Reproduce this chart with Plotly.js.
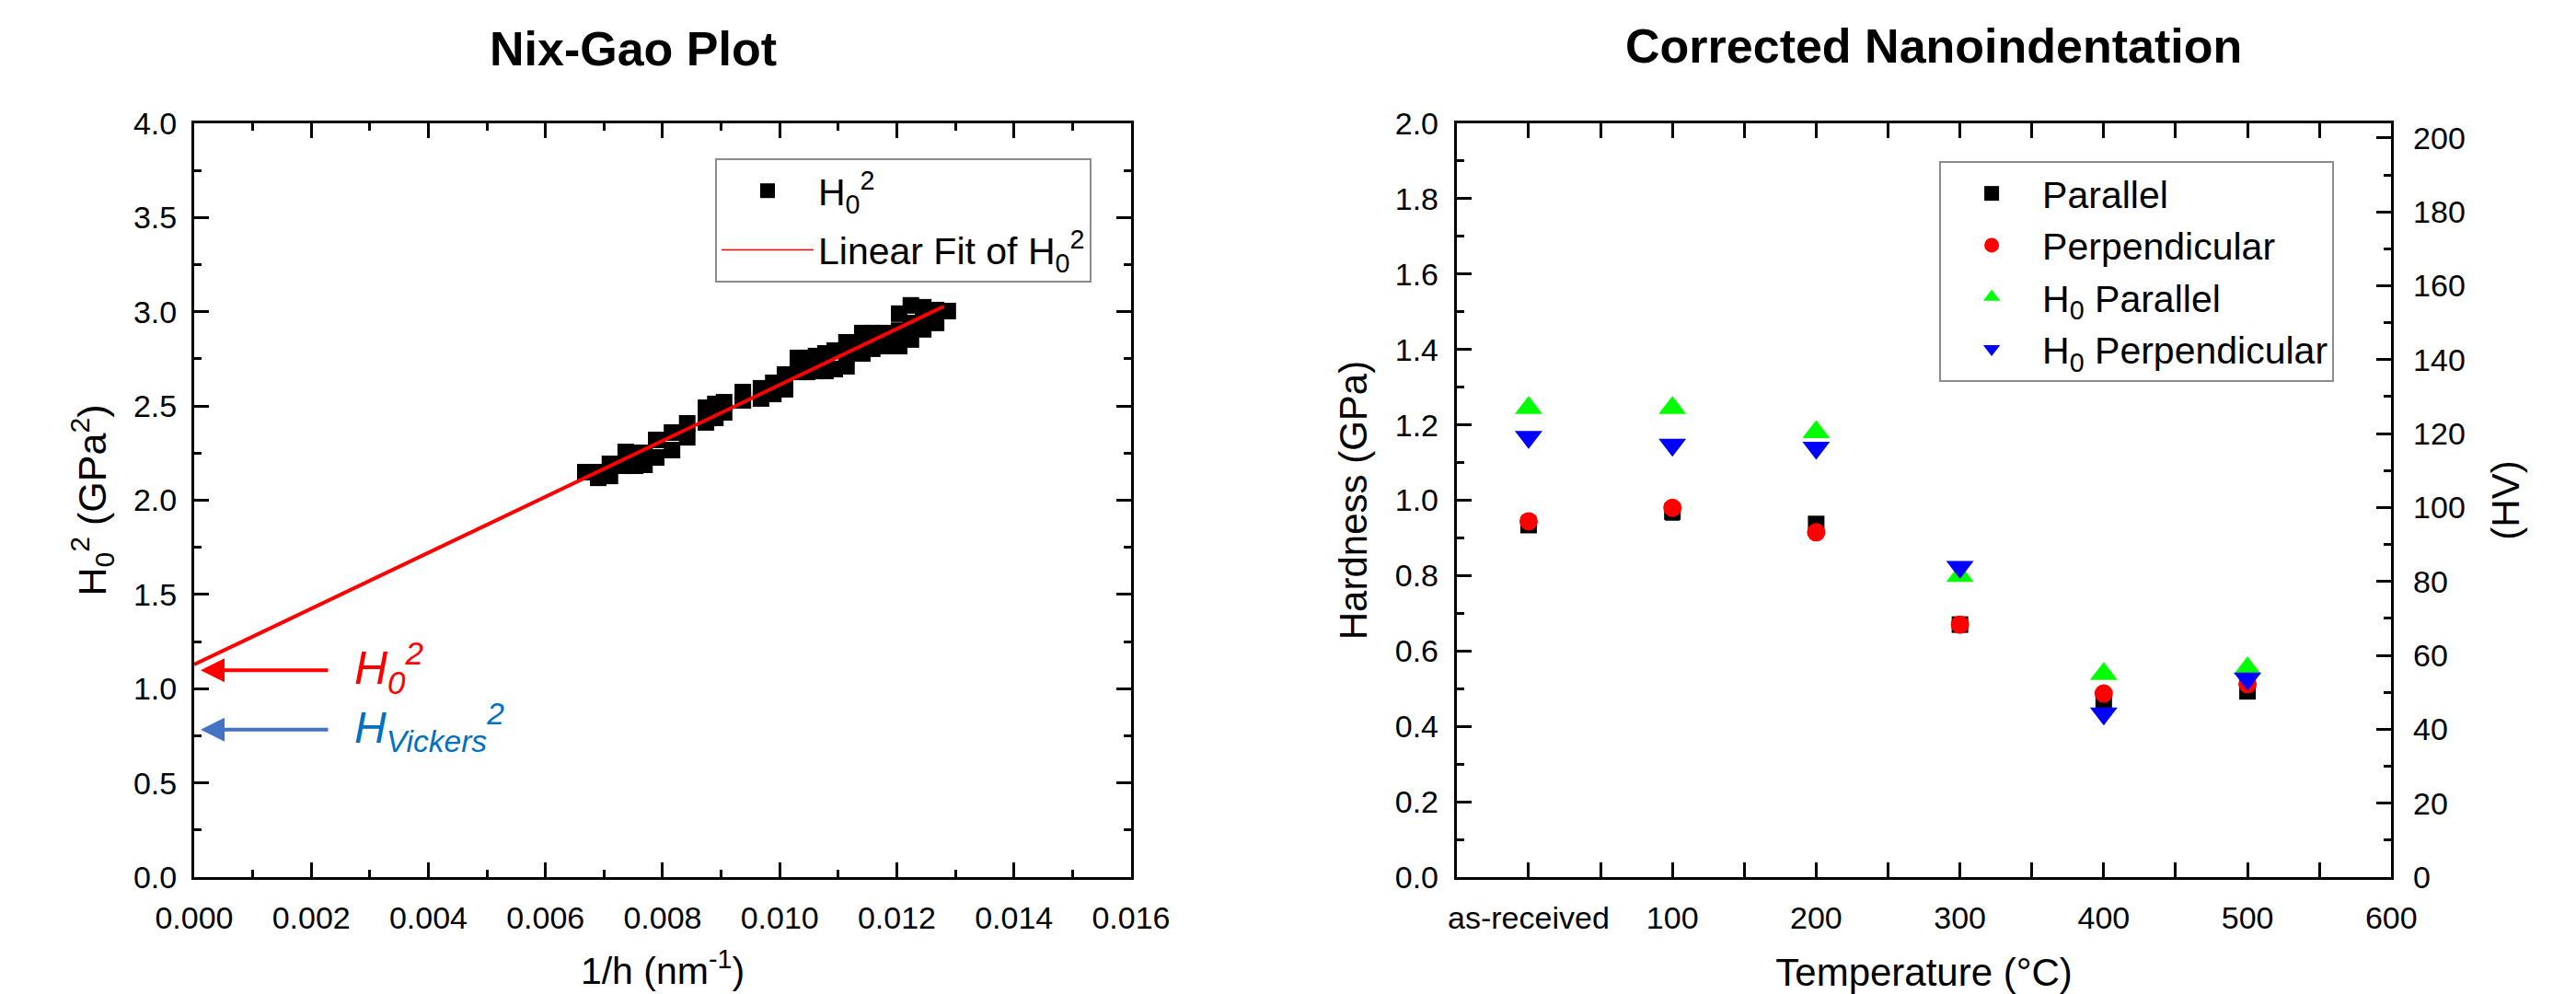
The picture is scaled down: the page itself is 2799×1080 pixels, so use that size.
<!DOCTYPE html>
<html>
<head>
<meta charset="utf-8">
<script src="https://cdn.plot.ly/plotly-3.0.1.min.js"></script>
<style>html,body{margin:0;padding:0;background:#fff;}#chart{width:2799px;height:1080px;}</style>
</head>
<body>
<div id="chart"></div>
<script>
// ---- Nix-Gao plot data ----
const invH = [0.00668, 0.00690,0.00690, 0.00710,0.00710, 0.00737,0.00737, 0.00753,0.00753, 0.00769,0.00769,
  0.00789,0.00789, 0.00816,0.00816, 0.00842,0.00842, 0.00874,0.00874, 0.00890,0.00890, 0.00905,0.00905,
  0.00937,0.00937, 0.00968,0.00968, 0.00989,0.00989, 0.01009,0.01009, 0.01031,0.01031, 0.01047,0.01047,
  0.01062,0.01062, 0.01078,0.01078, 0.01094,0.01094, 0.01114,0.01114,0.01114, 0.01141,0.01141,0.01141,
  0.01158,0.01158, 0.01177,0.01177,0.01177, 0.01204,0.01204,0.01204, 0.01224,0.01224,0.01224,
  0.01245,0.01245,0.01245, 0.01267,0.01267, 0.01287];
const h0sq = [2.149, 2.149,2.119, 2.193,2.129, 2.256,2.183, 2.251,2.183, 2.251,2.188,
  2.320,2.227, 2.359,2.266, 2.408,2.334, 2.491,2.413, 2.511,2.437, 2.520,2.466,
  2.574,2.530, 2.594,2.540, 2.623,2.564, 2.667,2.589, 2.755,2.681, 2.755,2.681,
  2.765,2.686, 2.779,2.686, 2.794,2.696, 2.838,2.775,2.711, 2.887,2.833,2.779,
  2.887,2.804, 2.887,2.850,2.818, 2.990,2.900,2.818, 3.034,2.940,2.853,
  3.024,2.965,2.907, 3.009,2.941, 3.004];
const fitX = [0, 0.0128];
const fitY = [1.128, 3.028];
// arrows: tip x, tail x, levels
const arrowTipX = 0.00011;
const arrowTailX = 0.00231;
const arrowLevels = [1.0975, 0.783];        // H0^2, HVickers^2
const arrowLabelX = 0.0027;
const arrowLabelY = [1.112, 0.794];

// ---- Corrected nanoindentation data ----
const temps = [0, 100, 200, 300, 400, 500];
const tempTickVals = [0, 100, 200, 300, 400, 500, 600];
const tempTickText = ['as-received', '100', '200', '300', '400', '500', '600'];
const parallel      = [0.934, 0.970, 0.937, 0.670, 0.462, 0.493];
const parallelErr   = [0, 0.022, 0, 0, 0, 0];
const perpendicular = [0.944, 0.980, 0.915, 0.670, 0.487, 0.512];
const h0Parallel    = [1.245, 1.245, 1.181, 0.799, 0.539, 0.554];
const h0Perp        = [1.168, 1.147, 1.139, 0.823, 0.434, 0.527];
const hvRange = [0, 203.94];   // HV scale equivalent of 0-2 GPa

const FONT = 'Liberation Sans, Arial, sans-serif';

const traces = [
  {x: invH, y: h0sq, xaxis: 'x', yaxis: 'y', type: 'scatter', mode: 'markers',
   name: 'H<sub>0</sub><sup>2</sup>', legend: 'legend', legendgroup: 'a',
   marker: {symbol: 'square', size: 18, color: '#000000'}},
  {x: fitX, y: fitY, xaxis: 'x', yaxis: 'y', type: 'scatter', mode: 'lines',
   name: 'Linear Fit of H<sub>0</sub><sup>2</sup>', legend: 'legend', showlegend: false, legendgroup: 'b',
   line: {color: '#FF0000', width: 4}},
  {x: [null], y: [null], xaxis: 'x', yaxis: 'y', type: 'scatter', mode: 'lines',
   name: 'Linear Fit of H<sub>0</sub><sup>2</sup>', legend: 'legend', legendgroup: 'b',
   line: {color: '#FF0000', width: 1.5}},

  {x: temps, y: parallel, xaxis: 'x2', yaxis: 'y2', type: 'scatter', mode: 'markers', name: 'Parallel',
   legend: 'legend2', marker: {symbol: 'square', size: 18, color: '#000000'},
   error_y: {type: 'data', array: parallelErr, visible: true, color: '#000000', thickness: 2, width: 8}},
  {x: temps, y: perpendicular, xaxis: 'x2', yaxis: 'y2', type: 'scatter', mode: 'markers', name: 'Perpendicular',
   legend: 'legend2', marker: {symbol: 'circle', size: 20, color: '#FF0000'}},
  {x: temps, y: h0Parallel, xaxis: 'x2', yaxis: 'y2', type: 'scatter', mode: 'markers', name: 'H<sub>0</sub> Parallel',
   legend: 'legend2', marker: {symbol: 'triangle-up', size: 26, color: '#00FF00'}},
  {x: temps, y: h0Perp, xaxis: 'x2', yaxis: 'y2', type: 'scatter', mode: 'markers', name: 'H<sub>0</sub> Perpendicular',
   legend: 'legend2', marker: {symbol: 'triangle-down', size: 26, color: '#0000FF'}},
  // registers the HV (right) axis
  {x: [null], y: [null], xaxis: 'x2', yaxis: 'y3', type: 'scatter', mode: 'markers', showlegend: false,
   hoverinfo: 'skip'}
];

const axBase = {
  showline: true, linecolor: '#000', linewidth: 3, showgrid: false, zeroline: false,
  ticks: 'inside', ticklen: 16, tickwidth: 3, tickcolor: '#000',
  tickfont: {family: FONT, size: 34, color: '#000'},
  ticklabelstandoff: 12
};
function ax(o) { return Object.assign({}, axBase, o); }

const yDom = [0.1176, 0.8759];

const layout = {
  width: 2799, height: 1080,
  margin: {l: 0, r: 0, t: 0, b: 0},
  paper_bgcolor: '#fff', plot_bgcolor: '#fff',
  font: {family: FONT, color: '#000'},
  showlegend: true,
  xaxis: ax({domain: [0.07538, 0.43908], range: [0, 0.016], anchor: 'y', dtick: 0.002, tick0: 0,
    tickformat: '.3f', mirror: 'allticks',
    minor: {dtick: 0.001, ticks: 'inside', ticklen: 8, tickwidth: 3, tickcolor: '#000'},
    title: {text: '1/h (nm<sup>-1</sup>)', font: {family: FONT, size: 41, color: '#000'}, standoff: 26}}),
  yaxis: ax({domain: yDom, range: [0, 4], anchor: 'x', dtick: 0.5, tick0: 0, tickformat: '.1f',
    mirror: 'allticks', ticklabelstandoff: 9,
    minor: {dtick: 0.25, ticks: 'inside', ticklen: 8, tickwidth: 3, tickcolor: '#000'},
    title: {text: 'H<sub>0</sub><sup>2</sup> (GPa<sup>2</sup>)', font: {family: FONT, size: 43, color: '#000'}, standoff: 16}}),

  xaxis2: ax({domain: [0.5655, 0.9283], range: [-50, 600], anchor: 'y2', tickmode: 'array',
    tickvals: tempTickVals, ticktext: tempTickText, mirror: 'allticks',
    minor: {dtick: 50, tick0: 0, ticks: 'inside', ticklen: 8, tickwidth: 3, tickcolor: '#000'},
    title: {text: 'Temperature (°C)', font: {family: FONT, size: 42, color: '#000'}, standoff: 28}}),
  yaxis2: ax({domain: yDom, range: [0, 2], anchor: 'x2', dtick: 0.2, tick0: 0, tickformat: '.1f',
    mirror: false, ticklabelstandoff: 10,
    minor: {dtick: 0.1, ticks: 'inside', ticklen: 8, tickwidth: 3, tickcolor: '#000'},
    title: {text: 'Hardness (GPa)', font: {family: FONT, size: 42, color: '#000'}, standoff: 18}}),
  yaxis3: ax({domain: yDom, range: hvRange, anchor: 'x2', overlaying: 'y2', side: 'right',
    dtick: 20, tick0: 0, ticklabelstandoff: 14,
    minor: {dtick: 10, ticks: 'inside', ticklen: 8, tickwidth: 3, tickcolor: '#000'},
    title: {text: '(HV)', font: {family: FONT, size: 42, color: '#000'}, standoff: 30}}),

  legend: {x: 0.2776, y: 0.8407, xanchor: 'left', yanchor: 'top', xref: 'paper', yref: 'paper',
    bgcolor: '#fff', bordercolor: '#8c8c8c', borderwidth: 2, itemwidth: 100, tracegroupgap: 8,
    font: {family: FONT, size: 41, color: '#000'}},
  legend2: {x: 0.7528, y: 0.838, xanchor: 'left', yanchor: 'top', xref: 'paper', yref: 'paper',
    bgcolor: '#fff', bordercolor: '#8c8c8c', borderwidth: 2, itemwidth: 100,
    font: {family: FONT, size: 41, color: '#000'}},

  annotations: [
    {xref: 'paper', yref: 'paper', x: 0.2458, y: 0.951, xanchor: 'center', yanchor: 'middle', showarrow: false,
     text: '<b>Nix-Gao Plot</b>', font: {family: FONT, size: 52, color: '#000'}},
    {xref: 'paper', yref: 'paper', x: 0.7506, y: 0.9537, xanchor: 'center', yanchor: 'middle', showarrow: false,
     text: '<b>Corrected Nanoindentation</b>', font: {family: FONT, size: 52, color: '#000'}},
    {xref: 'x', yref: 'y', axref: 'x', ayref: 'y', x: arrowTipX, y: arrowLevels[0], ax: arrowTailX, ay: arrowLevels[0],
     text: '', showarrow: true, arrowhead: 2, arrowsize: 1.3, arrowwidth: 4, arrowcolor: '#FF0000', standoff: 0},
    {xref: 'x', yref: 'y', axref: 'x', ayref: 'y', x: arrowTipX, y: arrowLevels[1], ax: arrowTailX, ay: arrowLevels[1],
     text: '', showarrow: true, arrowhead: 2, arrowsize: 1.3, arrowwidth: 4, arrowcolor: '#4472C4', standoff: 0},
    {xref: 'x', yref: 'y', x: arrowLabelX, y: arrowLabelY[0], xanchor: 'left', yanchor: 'middle', showarrow: false,
     text: '<i>H<sub>0</sub><sup>2</sup></i>', font: {family: FONT, size: 50, color: '#FF0000'}},
    {xref: 'x', yref: 'y', x: arrowLabelX, y: arrowLabelY[1], xanchor: 'left', yanchor: 'middle', showarrow: false,
     text: '<i>H<sub>Vickers</sub><sup>2</sup></i>', font: {family: FONT, size: 48, color: '#0070C0'}}
  ]
};

Plotly.newPlot('chart', traces, layout, {staticPlot: true, displayModeBar: false});
</script>
</body>
</html>
